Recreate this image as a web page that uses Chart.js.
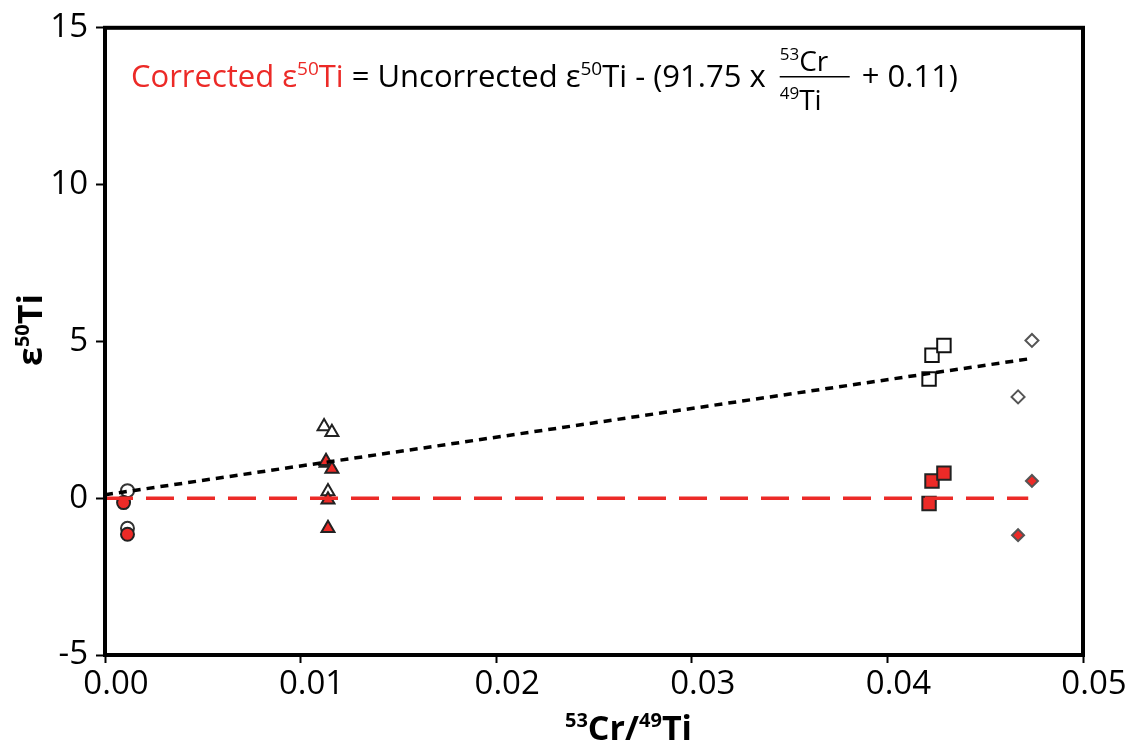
<!DOCTYPE html>
<html lang="en">
<head>
    <meta charset="UTF-8">
    <title>Ti isotope correction</title>
    <style>
        body {
            margin: 0;
            padding: 0;
            background-color: #ffffff;
        }

        .chart-box {
            width: 1136px;
            height: 746px;
        }
    </style>
</head>
<body>
    <div class="chart-box">
        <canvas id="ti-chart" width="1136" height="746"></canvas>
    </div>

    <script src="https://cdn.jsdelivr.net/npm/chart.js"></script>
    <script>
        // values (53Cr/49Ti, epsilon 50Ti)
        const circleOpenX = [0.00115, 0.00115];
        const circleOpenY = [0.24, -0.96];
        const circleRedX = [0.00095, 0.00115];
        const circleRedY = [-0.14, -1.15];

        const triOpenX = [0.0112, 0.0116, 0.0113, 0.0114];
        const triOpenY = [2.29, 2.10, 1.12, 0.21];
        const triRedX = [0.0113, 0.0116, 0.0114, 0.0114];
        const triRedY = [1.18, 0.93, -0.05, -0.96];

        const sqOpenX = [0.04213, 0.04228, 0.04289];
        const sqOpenY = [3.80, 4.56, 4.87];
        const sqRedX = [0.04213, 0.04228, 0.04289];
        const sqRedY = [-0.17, 0.55, 0.80];

        const diaOpenX = [0.04668, 0.04739];
        const diaOpenY = [3.23, 5.03];
        const diaRedX = [0.04668, 0.04739];
        const diaRedY = [-1.18, 0.55];

        // regression of uncorrected data and the corrected zero line
        const trendX = [0, 0.0472];
        const trendY = [0.11, 4.44];
        const zeroX = [0, 0.0472];
        const zeroY = [0, 0];

        const xTicks = [0, 0.01, 0.02, 0.03, 0.04, 0.05];
        const yTicks = [-5, 0, 5, 10, 15];

        const RED = '#ec2a27';
        const FONT = '"Open Sans", Arial, sans-serif';

        function pts(xs, ys) {
            return xs.map((x, i) => ({ x: x, y: ys[i] }));
        }

        function markers(xs, ys, style, radius, fill, edge) {
            return {
                data: pts(xs, ys),
                pointStyle: style,
                pointRadius: radius,
                pointHoverRadius: radius,
                backgroundColor: fill,
                borderColor: edge,
                pointBorderWidth: 2,
                showLine: false
            };
        }

        // draw a run of text pieces, each with its own size / colour / raise
        function drawRich(ctx, x, y, parts) {
            parts.forEach(p => {
                ctx.font = p.f;
                ctx.fillStyle = p.c || '#000';
                ctx.fillText(p.t, x, y - (p.dy || 0));
                x += ctx.measureText(p.t).width;
            });
            return x;
        }

        const decorations = {
            id: 'decorations',
            afterDatasetsDraw(chart) {
                const ctx = chart.ctx;
                const a = chart.chartArea;
                ctx.save();
                ctx.strokeStyle = '#000';
                ctx.lineWidth = 4;
                ctx.strokeRect(a.left, a.top, a.right - a.left, a.bottom - a.top);

                ctx.textAlign = 'left';
                ctx.textBaseline = 'alphabetic';
                const big = '31px ' + FONT;
                const sup = '19px ' + FONT;
                let x = drawRich(ctx, 131, 87, [
                    { t: 'Corrected ε', f: big, c: RED },
                    { t: '50', f: sup, c: RED, dy: 12 },
                    { t: 'Ti', f: big, c: RED },
                    { t: ' = Uncorrected ε', f: big },
                    { t: '50', f: sup, dy: 12 },
                    { t: 'Ti - (91.75 x ', f: big }
                ]);
                const fx = x + 6;
                const small = '28px ' + FONT;
                const tiny = '17px ' + FONT;
                drawRich(ctx, fx, 71, [
                    { t: '53', f: tiny, dy: 11 },
                    { t: 'Cr', f: small }
                ]);
                drawRich(ctx, fx, 110, [
                    { t: '49', f: tiny, dy: 11 },
                    { t: 'Ti', f: small }
                ]);
                ctx.fillStyle = '#000';
                ctx.fillRect(fx, 76, 70, 1.5);
                drawRich(ctx, fx + 74, 87, [{ t: ' + 0.11)', f: big }]);

                // axis titles
                const bold = 'bold 34px ' + FONT;
                const bsup = 'bold 20px ' + FONT;
                drawRich(ctx, 565, 740, [
                    { t: '53', f: bsup, dy: 13 },
                    { t: 'Cr/', f: bold },
                    { t: '49', f: bsup, dy: 13 },
                    { t: 'Ti', f: bold }
                ]);
                ctx.translate(42, 366);
                ctx.rotate(-Math.PI / 2);
                drawRich(ctx, 0, 0, [
                    { t: 'ε', f: bold },
                    { t: '50', f: bsup, dy: 13 },
                    { t: 'Ti', f: bold }
                ]);
                ctx.restore();
            }
        };

        const tiChart = new Chart(document.getElementById('ti-chart'), {
            type: 'scatter',
            data: {
                datasets: [
                    {
                        data: pts(trendX, trendY),
                        showLine: true,
                        borderColor: '#000',
                        borderWidth: 3.5,
                        borderDash: [8, 6],
                        pointRadius: 0
                    },
                    {
                        data: pts(zeroX, zeroY),
                        showLine: true,
                        borderColor: RED,
                        borderWidth: 3.5,
                        borderDash: [28, 13],
                        pointRadius: 0
                    },
                    markers(circleRedX, circleRedY, 'circle', 6.5, RED, '#222'),
                    markers(triRedX, triRedY, 'triangle', 7.5, RED, '#222'),
                    markers(sqRedX, sqRedY, 'rect', 9.5, RED, '#222'),
                    markers(diaRedX, diaRedY, 'rectRot', 6, RED, '#555'),
                    markers(circleOpenX, circleOpenY, 'circle', 6.5, '#fff', '#333'),
                    markers(triOpenX, triOpenY, 'triangle', 7.5, '#fff', '#222'),
                    markers(sqOpenX, sqOpenY, 'rect', 9.5, '#fff', '#111'),
                    markers(diaOpenX, diaOpenY, 'rectRot', 6.5, '#fff', '#555')
                ]
            },
            plugins: [decorations],
            options: {
                responsive: false,
                animation: false,
                events: [],
                layout: {
                    padding: { top: 21, right: 53, left: 0, bottom: 0 }
                },
                plugins: {
                    legend: { display: false },
                    tooltip: { enabled: false }
                },
                scales: {
                    x: {
                        type: 'linear',
                        min: 0,
                        max: 0.05,
                        afterBuildTicks: s => { s.ticks = xTicks.map(v => ({ value: v })); },
                        afterFit: s => { s.height = 91; },
                        ticks: {
                            color: '#000',
                            font: { family: FONT, size: 33 },
                            padding: 2,
                            labelOffset: 11,
                            maxRotation: 0,
                            callback: v => v.toFixed(2)
                        },
                        grid: {
                            drawOnChartArea: false,
                            drawTicks: true,
                            tickLength: 8,
                            tickWidth: 2,
                            color: '#000'
                        },
                        border: { display: true, color: '#000', width: 4 }
                    },
                    y: {
                        type: 'linear',
                        min: -5,
                        max: 15,
                        afterBuildTicks: s => { s.ticks = yTicks.map(v => ({ value: v })); },
                        afterFit: s => { s.width = 105; },
                        ticks: {
                            color: '#000',
                            font: { family: FONT, size: 33 },
                            padding: 8
                        },
                        grid: {
                            drawOnChartArea: false,
                            drawTicks: true,
                            tickLength: 9,
                            tickWidth: 2,
                            color: '#000'
                        },
                        border: { display: true, color: '#000', width: 4 }
                    }
                }
            }
        });
    </script>
</body>
</html>
